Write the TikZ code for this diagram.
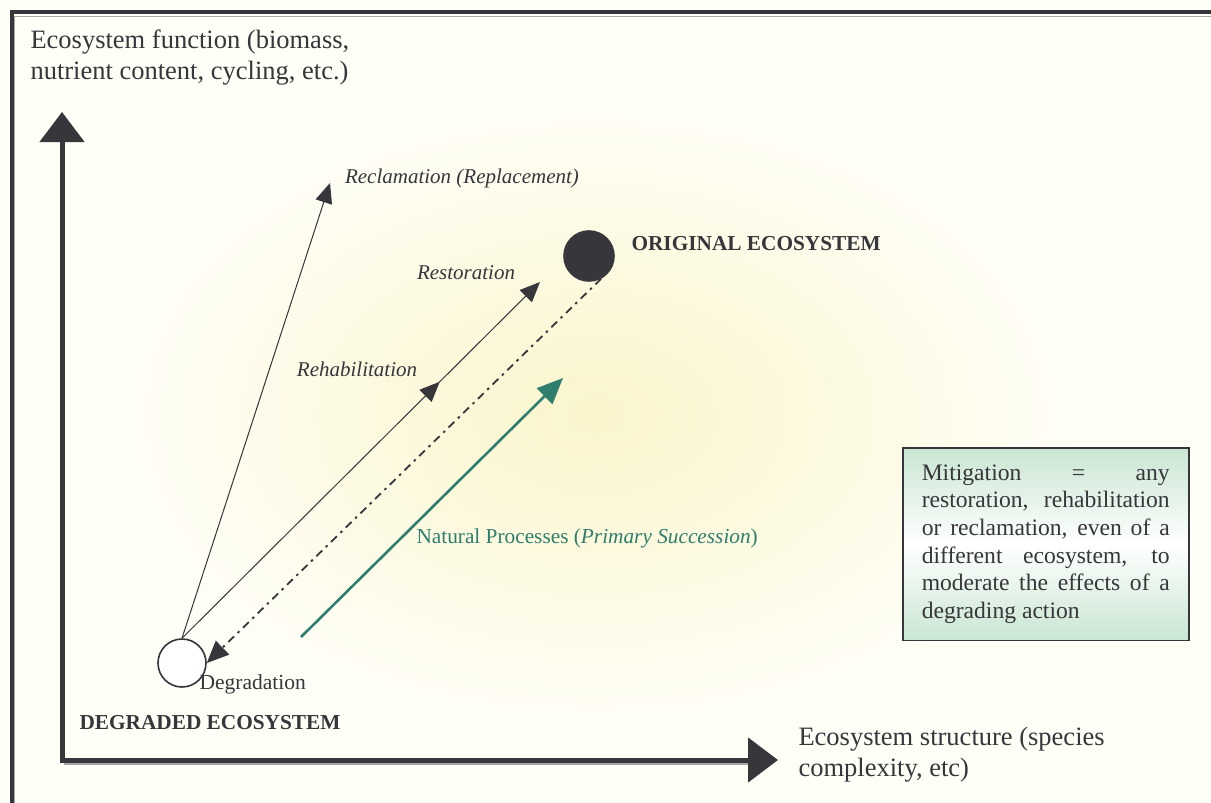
\documentclass[tikz,border=0pt]{standalone}
\usepackage{fontspec}
\setmainfont{Liberation Serif}
\usetikzlibrary{calc,positioning,arrows.meta,decorations.markings}

\definecolor{inkgray}{HTML}{36363B}
\definecolor{teal}{HTML}{2F7E6E}
\definecolor{cream}{HTML}{FFFEF7}
\definecolor{glow}{HTML}{FAF5CC}
\definecolor{mint}{HTML}{C9E6D2}

\begin{document}
\begin{tikzpicture}
      [x=1pt, y=-1pt,
        axis/.style={draw=inkgray, line width=5pt, -{Triangle[length=30pt, width=44pt]}},
        line/.style={draw=inkgray, line width=1pt, -{Triangle[length=20pt, width=17pt]}},
        state/.style={
          circle,
          draw=inkgray, line width=1.6pt,
          minimum size=48pt,
          inner sep=0pt,
        },
        tag/.style={font=\fontsize{21}{25}\selectfont\itshape, text=inkgray},
        heading/.style={font=\fontsize{21.3}{25}\selectfont\bfseries, text=inkgray},
        axislabel/.style={font=\fontsize{26.5}{31}\selectfont, text=inkgray, align=left},
        note/.style={
          draw=inkgray, line width=1.5pt,
          top color=mint, bottom color=mint, middle color=white,
          text width=248pt, inner xsep=19pt, inner ysep=17pt,
          align=justify,
          font=\fontsize{23.6}{27.6}\selectfont, text=inkgray,
        }]
      % background and frame
      \useasboundingbox (0,0) rectangle (1211,803);
      \fill[cream] (0,0) rectangle (1211,803);
      \shade[inner color=glow, outer color=cream] (110,100) rectangle (1080,730);
      \draw[gray!70, line width=1pt] (14,803) -- (14,16) -- (1211,16);
      \draw[inkgray, line width=4.5pt] (12,803) -- (12,12) -- (1211,12);

      % axes
      \coordinate (origin) at (62,760);
      \coordinate (ytip) at (62,112);
      \coordinate (xtip) at (778,760);
      \draw[gray!70, line width=2pt] (64,764) -- (752,764);
      \draw[axis] ($(origin)+(0,2.5)$) -- (ytip);
      \draw[axis] ($(origin)+(-2.5,0)$) -- (xtip);
      \node[axislabel, anchor=west] (ylabel) at (27,58) {Ecosystem function (biomass,\\nutrient content, cycling, etc.)};
      \node[axislabel, anchor=west] (xlabel) at (795,755) {Ecosystem structure (species\\complexity, etc)};

      % ecosystem states
      \node[state, fill=white] (degraded) at (182,663) {};
      \node[state, fill=inkgray, minimum size=50pt] (original) at (589,256) {};
      \node[heading, anchor=west] (origlabel) at (628,244) {ORIGINAL ECOSYSTEM};
      \node[heading] (deglabel) at (210,723) {DEGRADED ECOSYSTEM};

      % pathways
      \coordinate (reclaimed) at (330,183);
      \coordinate (restored) at (540,282);
      \draw[line] (degraded.north) -- (reclaimed);
      \draw[line,
        decoration={markings, mark=at position 0.72 with {\arrow{Triangle[length=20pt, width=17pt]}}},
        postaction={decorate}
      ] (degraded.north) -- (restored);
      \draw[line, line width=1.8pt, dash pattern=on 8pt off 5pt on 2.5pt off 5pt,
        -{Triangle[length=22pt, width=19pt]}]
        (original.-62) -- (degraded.east);
      \node[tag] (reclamation) at (462,178) {Reclamation (Replacement)};
      \node[tag] (restoration) at (466,273) {Restoration};
      \node[tag] (rehabilitation) at (357,369) {Rehabilitation};
      \node[font=\fontsize{21.5}{25}\selectfont, text=inkgray, anchor=west] (degradation) at (196,684) {Degradation};

      % natural succession
      \coordinate (nat start) at (301,637);
      \coordinate (nat end) at (563,378);
      \draw[teal, line width=2.6pt, -{Triangle[length=26pt, width=22pt]}] (nat start) -- (nat end);
      \node[font=\fontsize{21.3}{25}\selectfont, text=teal, anchor=west] (natural) at (413,538) {Natural Processes (\textit{Primary Succession})};

      % mitigation box
      \node[note, anchor=north west] (mitigation) at (902,447)
        {\hyphenpenalty=10000\tolerance=10000
         Mitigation = any\linebreak restoration, rehabilitation\linebreak or reclamation, even of a\linebreak different ecosystem, to\linebreak moderate the effects of a\linebreak degrading action};
    \end{tikzpicture}
\end{document}
